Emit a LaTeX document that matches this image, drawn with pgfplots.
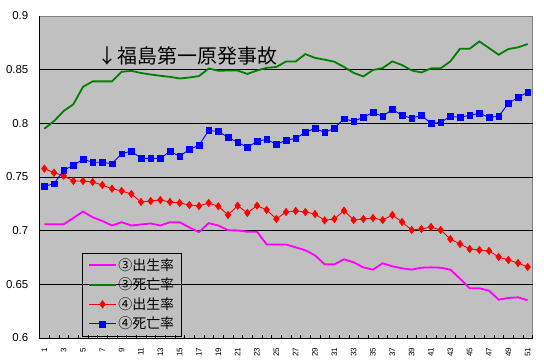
\documentclass[border=0pt]{standalone}
\usepackage{fontspec}
\setmainfont{Liberation Sans}
\newfontfamily\cjk{Noto Sans CJK JP}
\usepackage{pgfplots}
\usepackage{pgfplotstable}
\pgfplotsset{compat=1.18}
\definecolor{plotbg}{RGB}{192,192,192}
\definecolor{framec}{RGB}{128,128,128}
\definecolor{mag}{RGB}{255,0,255}
\definecolor{grn}{RGB}{0,128,0}
\pgfplotstableread{
x a b c d
1 0.7059 0.7950 0.7578 0.7413
2 0.7059 0.8020 0.7540 0.7438
3 0.7059 0.8115 0.7512 0.7562
4 0.7118 0.8177 0.7463 0.7609
5 0.7178 0.8340 0.7463 0.7665
6 0.7125 0.8391 0.7453 0.7637
7 0.7090 0.8391 0.7425 0.7637
8 0.7048 0.8391 0.7391 0.7624
9 0.7079 0.8480 0.7370 0.7717
10 0.7048 0.8489 0.7342 0.7742
11 0.7058 0.8469 0.7267 0.7674
12 0.7067 0.8455 0.7276 0.7674
13 0.7048 0.8443 0.7286 0.7674
14 0.7079 0.8433 0.7267 0.7739
15 0.7079 0.8418 0.7258 0.7693
16 0.7030 0.8427 0.7239 0.7758
17 0.6986 0.8440 0.7230 0.7795
18 0.7070 0.8511 0.7258 0.7933
19 0.7048 0.8490 0.7227 0.7925
20 0.7005 0.8492 0.7146 0.7870
21 0.7002 0.8492 0.7233 0.7823
22 0.6990 0.8460 0.7165 0.7776
23 0.6990 0.8492 0.7233 0.7832
24 0.6871 0.8517 0.7193 0.7851
25 0.6871 0.8525 0.7109 0.7804
26 0.6871 0.8576 0.7174 0.7842
27 0.6845 0.8576 0.7183 0.7860
28 0.6817 0.8645 0.7174 0.7916
29 0.6770 0.8610 0.7155 0.7953
30 0.6686 0.8593 0.7096 0.7916
31 0.6686 0.8574 0.7109 0.7953
32 0.6733 0.8525 0.7186 0.8043
33 0.6705 0.8470 0.7099 0.8019
34 0.6658 0.8437 0.7109 0.8056
35 0.6637 0.8497 0.7118 0.8102
36 0.6696 0.8515 0.7099 0.8065
37 0.6668 0.8577 0.7146 0.8130
38 0.6649 0.8543 0.7081 0.8075
39 0.6637 0.8493 0.7006 0.8047
40 0.6655 0.8474 0.7016 0.8075
41 0.6658 0.8512 0.7034 0.8000
42 0.6655 0.8512 0.7006 0.8009
43 0.6637 0.8577 0.6922 0.8065
44 0.6553 0.8695 0.6876 0.8056
45 0.6463 0.8695 0.6829 0.8075
46 0.6463 0.8763 0.6820 0.8093
47 0.6441 0.8702 0.6811 0.8056
48 0.6357 0.8639 0.6755 0.8065
49 0.6373 0.8692 0.6727 0.8186
50 0.6379 0.8708 0.6699 0.8242
51 0.6351 0.8739 0.6661 0.8289
}\datatable
\begin{document}
\begin{tikzpicture}
\path[use as bounding box] (0,0) rectangle (544bp,364bp);
\begin{axis}[
  at={(39.5bp,26bp)}, anchor=south west,
  scale only axis, width=493bp, height=322bp,
  xmin=0.5, xmax=51.5, ymin=0.6, ymax=0.9,
  axis background/.style={fill=plotbg, draw=framec, line width=0.9bp},
  axis x line=bottom, axis y line=left,
  axis line style={black, line width=0.9bp, -},
  xtick={1,3,...,51},
  minor xtick={0.5,1.5,...,51.5},
  ytick={0.65,0.7,0.75,0.8,0.85},
  extra y ticks={0.6,0.9},
  extra y tick style={grid=none},
  ymajorgrids,
  major grid style={black, line width=0.9bp},
  major tick length=0pt,
  minor tick length=3bp,
  tick align=inside,
  minor tick style={black, line width=0.6bp},
  /pgf/number format/assume math mode=true,
  yticklabel style={font=\fontsize{11.5}{12}\selectfont, /pgf/number format/fixed, /pgf/number format/precision=2, inner sep=0pt, xshift=-11bp},
  xticklabel style={font=\fontsize{8}{9}\selectfont, inner sep=0pt, rotate=90, anchor=east, xshift=-9.5bp},
  legend style={at={(0.086,0.264)}, anchor=north west, draw=black, fill=none,
    font=\cjk\fontsize{14}{16}\selectfont, inner xsep=6bp, inner ysep=4bp, row sep=3.2bp,
    cells={anchor=west}, nodes={inner sep=1.5bp}},
  legend image code/.code={%
    \draw[#1, mark=none] (0bp,0bp) -- (27bp,0bp);
    \path[#1, draw opacity=0] plot coordinates {(13.5bp,0bp)};},
]
\addplot[mag, line width=1.8bp, no markers] table[x=x,y=a]{\datatable};
\addlegendentry{③出生率}
\addplot[grn, line width=1.8bp, no markers] table[x=x,y=b]{\datatable};
\addlegendentry{③死亡率}
\addplot[red, line width=0.9bp, mark=diamond*, mark size=3.8bp, mark options={fill=red, draw=red, draw opacity=1, line width=0.4bp}] table[x=x,y=c]{\datatable};
\addlegendentry{④出生率}
\addplot[blue, line width=0.9bp, mark=square*, mark size=2.9bp, mark options={fill=blue, draw=blue, draw opacity=1, line width=0.3bp}] table[x=x,y=d]{\datatable};
\addlegendentry{④死亡率}
\node[anchor=west, inner sep=0pt, font=\cjk\fontsize{20}{24}\selectfont] at (axis cs:6.5,0.863) {↓福島第一原発事故};
\end{axis}
\end{tikzpicture}
\end{document}
